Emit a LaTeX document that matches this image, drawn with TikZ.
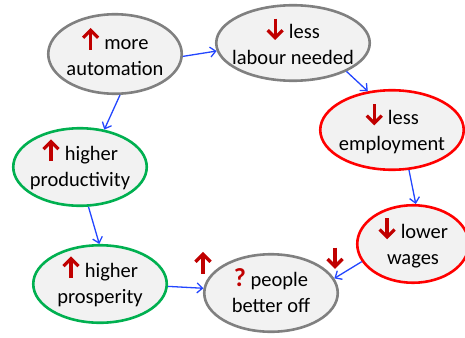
\documentclass[tikz,border=0pt]{standalone}
\usepackage{fontspec}
\setmainfont{Carlito}
\usetikzlibrary{shapes.geometric,arrows.meta}
\definecolor{darkred}{RGB}{192,0,0}
\definecolor{elfill}{RGB}{242,242,242}
\definecolor{elgray}{RGB}{128,128,128}
\definecolor{elgreen}{RGB}{0,176,80}
\definecolor{elred}{RGB}{255,0,0}
\definecolor{connblue}{RGB}{35,70,255}
\newcommand\uparr{\tikz[baseline=0pt,x=1pt,y=1pt]{\draw[darkred,line width=3.2pt] (0,-0.5)--(0,19); \draw[darkred,line width=3.2pt,line join=miter] (-7.5,11.5)--(0,19)--(7.5,11.5);}}
\newcommand\dnarr{\tikz[baseline=0pt,x=1pt,y=1pt]{\draw[darkred,line width=3.2pt] (0,20)--(0,1); \draw[darkred,line width=3.2pt,line join=miter] (-7.5,8.5)--(0,1)--(7.5,8.5);}}
\newcommand\qmark{{\fontsize{26pt}{26pt}\selectfont\bfseries\color{darkred}?}}
\begin{document}
\begin{tikzpicture}[x=1pt,y=-1pt,
  el/.style={ellipse,draw,fill=elfill,line width=2.6pt,inner sep=0pt},
  elg/.style={el,draw=elgray},
  elgr/.style={el,draw=elgreen},
  elr/.style={el,draw=elred},
  txt/.style={align=center,inner sep=0pt,yshift=2pt,font=\fontsize{20.5pt}{26pt}\selectfont},
  conn/.style={draw=connblue,line width=1.3pt,-{Straight Barb[length=5.5pt,width=10pt]}},
  arrmark/.style={inner sep=0pt}]
\useasboundingbox (0,0) rectangle (465,337);
\node[elg,minimum width=133.5pt,minimum height=79.5pt] (auto) at (115,54) {};
\node[elg,minimum width=153.5pt,minimum height=75.5pt] (lab) at (293,43) {};
\node[elr,minimum width=143.5pt,minimum height=79.5pt] (emp) at (392,130) {};
\node[elgr,minimum width=133.5pt,minimum height=77.5pt] (prod) at (80,167) {};
\node[elgr,minimum width=133.5pt,minimum height=77.5pt] (pros) at (100,284) {};
\node[elg,minimum width=133.5pt,minimum height=77.5pt] (peo) at (271,293) {};
\node[elr,minimum width=111.5pt,minimum height=77.5pt] (wag) at (413,244) {};
\node[txt] (tauto) at (auto) {\uparr\ more\\automation};
\node[txt] (tlab) at (lab) {\dnarr\ less\\labour needed};
\node[txt] (temp) at (emp) {\dnarr\ less\\employment};
\node[txt] (tprod) at (prod) {\uparr\ higher\\productivity};
\node[txt] (tpros) at (pros) {\uparr\ higher\\prosperity};
\node[txt] (tpeo) at (peo) {\qmark\ people\\better off};
\node[txt] (twag) at (wag) {\dnarr\ lower\\wages};
\node[arrmark] (upm) at (203,264) {\uparr};
\node[arrmark] (dnm) at (335,257) {\dnarr};
\draw[conn] (auto.-2.5) -- (lab.186);
\draw[conn] (auto.-83) -- (prod.57);
\draw[conn] (lab.-28) -- (emp.122);
\draw[conn] (emp.-67) -- (wag.86);
\draw[conn] (prod.-78) -- (pros.91);
\draw[conn] (pros.-2.5) -- (peo.176);
\draw[conn] (wag.199) -- (peo.13);
\end{tikzpicture}
\end{document}
